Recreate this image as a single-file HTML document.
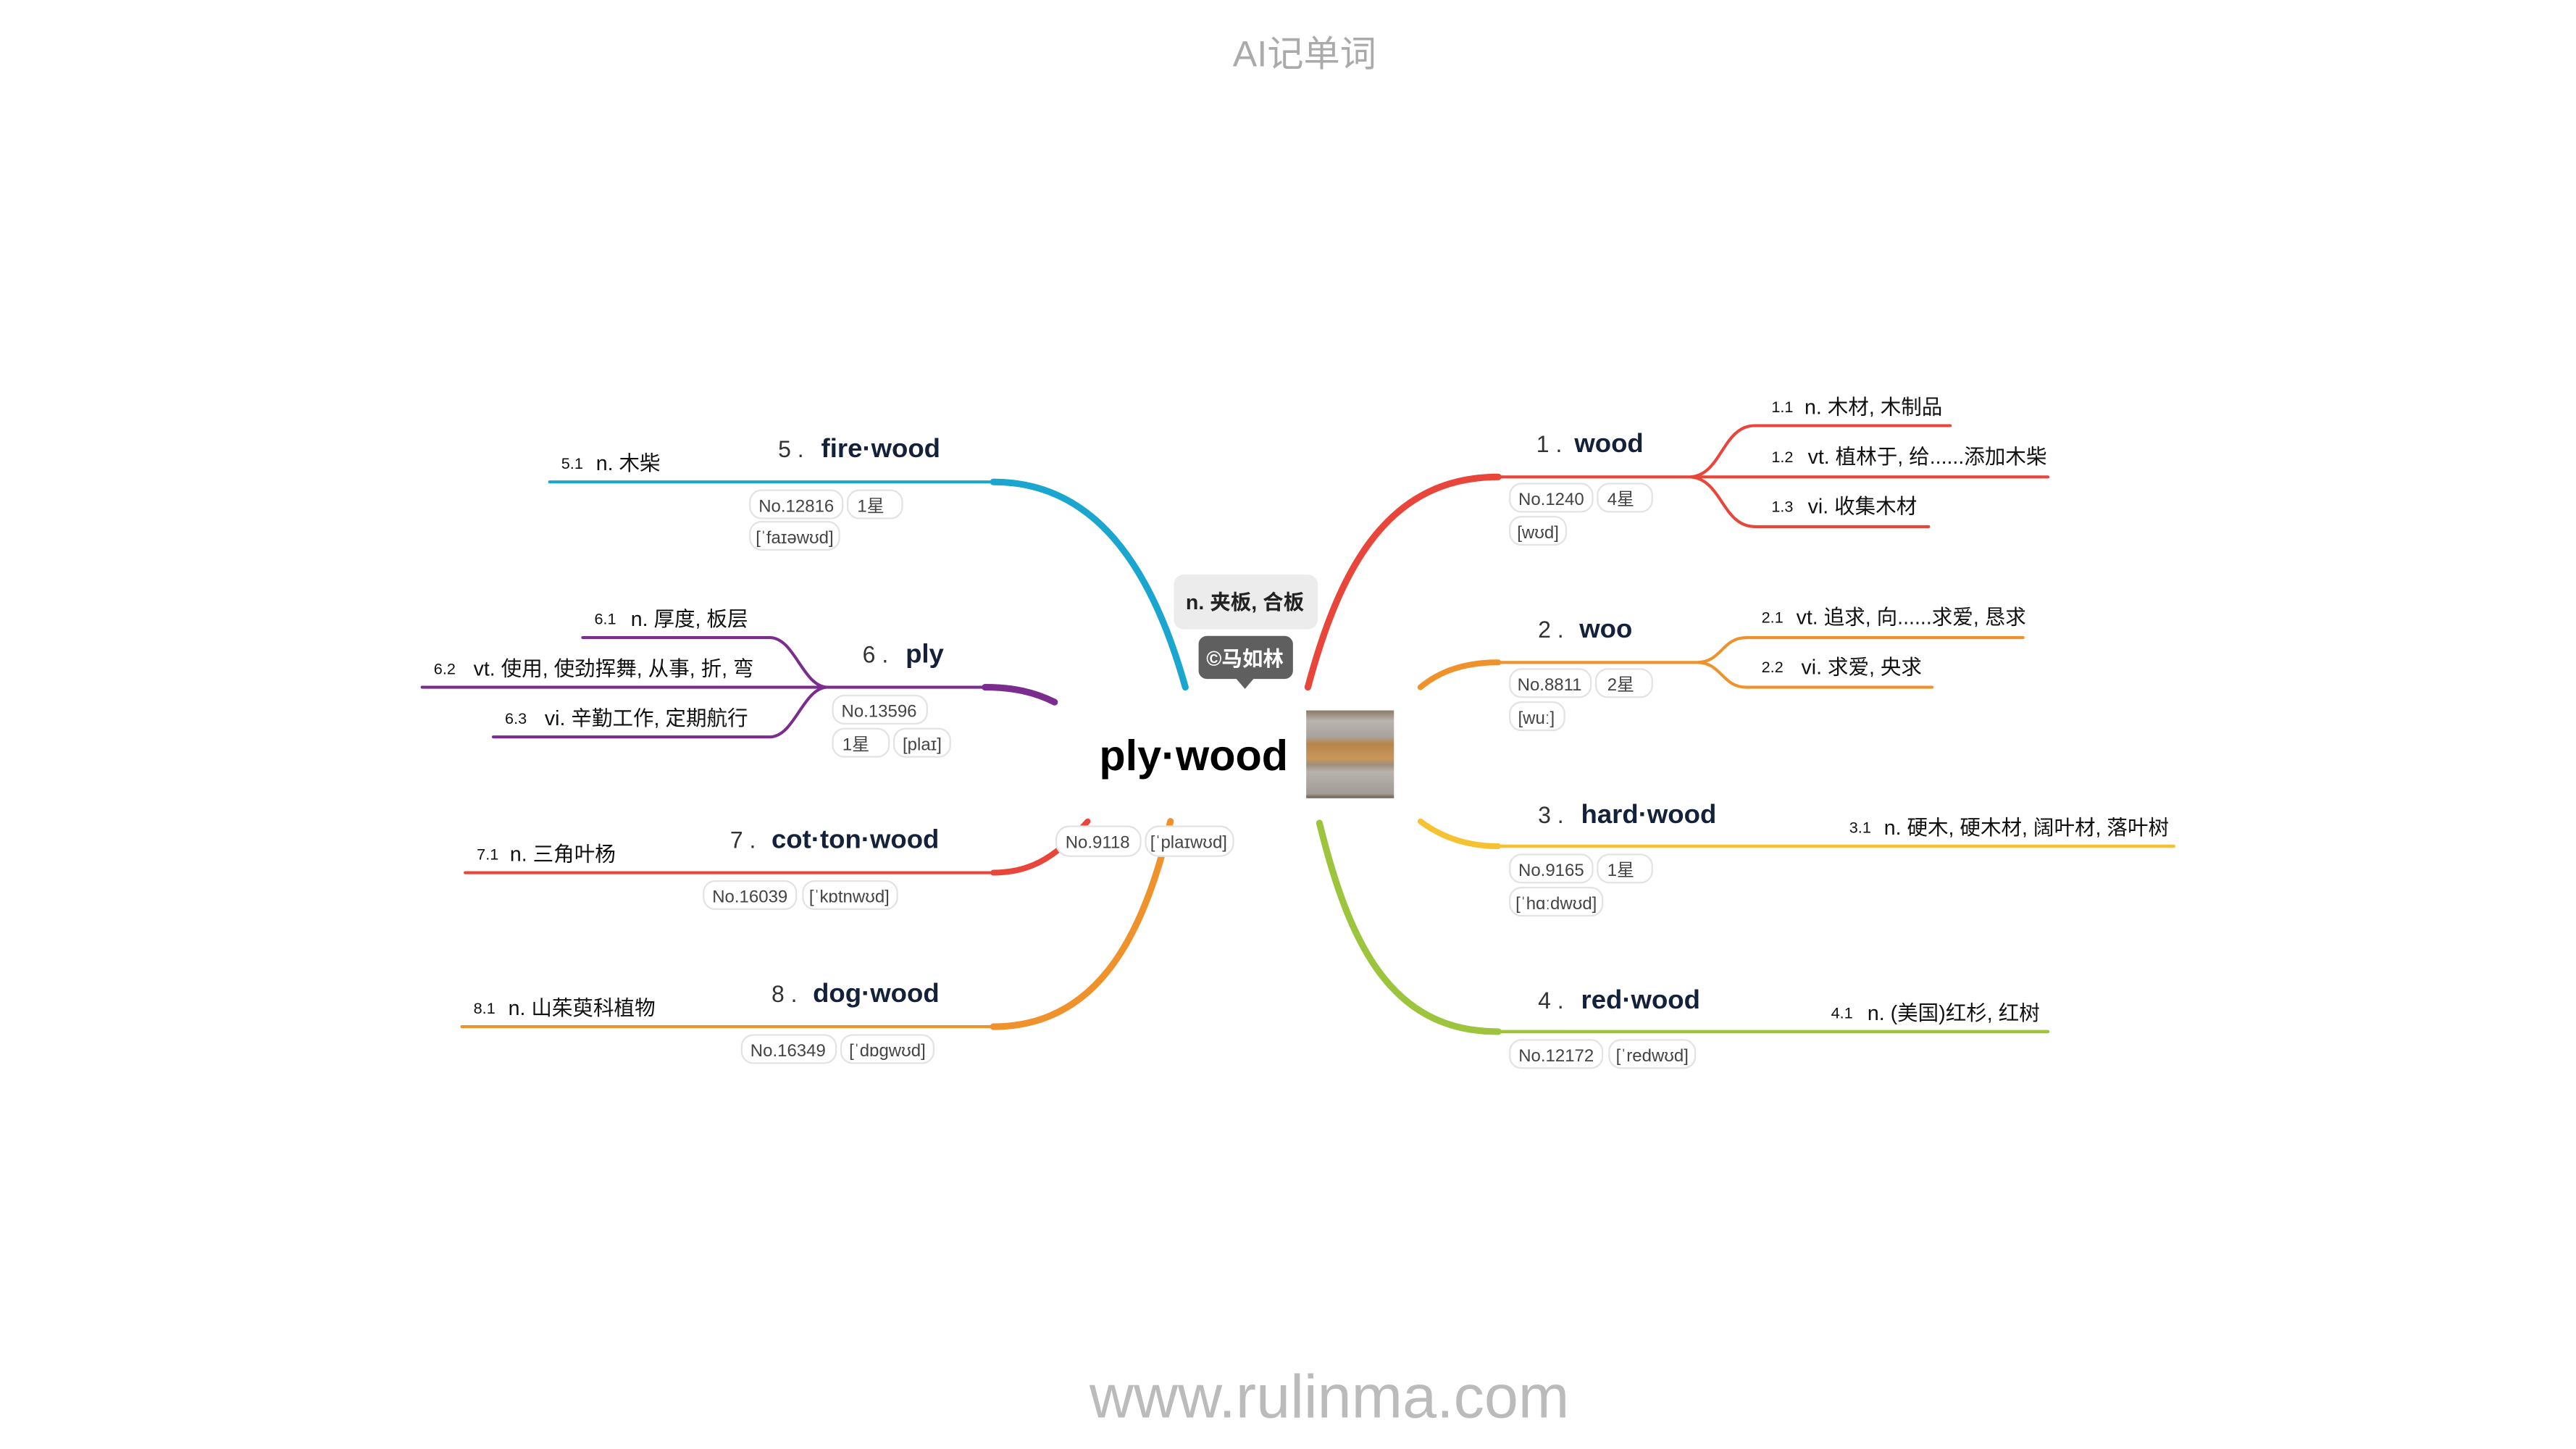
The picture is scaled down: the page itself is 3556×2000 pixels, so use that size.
<!DOCTYPE html>
<html><head><meta charset="utf-8"><style>
html,body{margin:0;padding:0;background:#fff;width:3556px;height:2000px;overflow:hidden}
svg{display:block}
text{font-family:"Liberation Sans","Noto Sans CJK SC",sans-serif}
.w{font-weight:bold;fill:#14213a;font-size:16px}
.n{fill:#333;font-size:14px}
.s{fill:#111;font-size:12.5px}
.i{fill:#111;font-size:9.5px}
.p{fill:#444;font-size:10.5px}
.pill{fill:#fff;stroke:#e3e3e3;stroke-width:1}
</style></head><body>
<svg width="3556" height="2000" viewBox="0 0 1556 875" xmlns="http://www.w3.org/2000/svg">
<defs>
<linearGradient id="wd" x1="0" y1="0" x2="0" y2="1">
<stop offset="0" stop-color="#8a7a66"/><stop offset="0.12" stop-color="#b9b4ad"/><stop offset="0.3" stop-color="#a8a39c"/>
<stop offset="0.38" stop-color="#b7854a"/><stop offset="0.55" stop-color="#c9965a"/><stop offset="0.62" stop-color="#9d8f7e"/>
<stop offset="0.7" stop-color="#b8b3ad"/><stop offset="0.95" stop-color="#a09b94"/><stop offset="1" stop-color="#6b5a48"/>
</linearGradient>
</defs>
<text x="788" y="40" text-anchor="middle" fill="#aaa" font-size="22">AI记单词</text>
<text x="803" y="856" text-anchor="middle" fill="#bbb" font-size="37">www.rulinma.com</text>

<!-- branch curves -->
<g fill="none" stroke-linecap="round">
<!-- 1 red -->
<path d="M790,415 C810,340 840,288 905,288" stroke="#e8463a" stroke-width="4"/>
<path d="M905,288 L1237,288 M1020,288 C1040,288 1040,257 1060,257 L1178,257 M1020,288 C1040,288 1040,318 1060,318 L1165,318" stroke="#e8463a" stroke-width="1.8"/>
<!-- 2 orange -->
<path d="M858,415 C870,405 885,400 905,400" stroke="#f0922b" stroke-width="3.5"/>
<path d="M905,400 L1025,400 C1040,400 1040,385 1055,385 L1222,385 M1025,400 C1040,400 1040,415 1055,415 L1167,415" stroke="#f0922b" stroke-width="1.8"/>
<!-- 3 yellow -->
<path d="M858,496 C870,505 885,511 905,511" stroke="#f5c232" stroke-width="3.5"/>
<path d="M905,511 L1313,511" stroke="#f5c232" stroke-width="2"/>
<!-- 4 green -->
<path d="M797,497 C815,570 840,623 905,623" stroke="#9cc43c" stroke-width="4"/>
<path d="M905,623 L1237,623" stroke="#9cc43c" stroke-width="2"/>
<!-- 5 teal -->
<path d="M716,415 C695,340 660,291 600,291" stroke="#1aa6cf" stroke-width="4"/>
<path d="M600,291 L332,291" stroke="#1aa6cf" stroke-width="1.8"/>
<!-- 6 purple -->
<path d="M637,424 C625,418 612,415 595,415" stroke="#7b2d8e" stroke-width="4"/>
<path d="M595,415 L255,415 M500,415 C485,415 480,385 465,385 L352,385 M500,415 C485,415 480,445 465,445 L298,445" stroke="#7b2d8e" stroke-width="1.8"/>
<!-- 7 red -->
<path d="M657,496 C640,515 625,527 600,527" stroke="#e8463a" stroke-width="3.5"/>
<path d="M600,527 L281,527" stroke="#e8463a" stroke-width="1.8"/>
<!-- 8 orange -->
<path d="M707,496 C690,570 660,620 600,620" stroke="#f0922b" stroke-width="4"/>
<path d="M600,620 L279,620" stroke="#f0922b" stroke-width="1.8"/>
</g>

<!-- center -->
<rect x="709" y="347" width="87" height="33" rx="6" fill="#ececec"/>
<text x="752" y="368" text-anchor="middle" font-size="12.5" font-weight="bold" fill="#222">n. 夹板, 合板</text>
<rect x="724" y="384" width="57" height="26" rx="5" fill="#5f5f5f"/>
<path d="M746,409 L752,416 L758,409 Z" fill="#5f5f5f"/>
<text x="752" y="402" text-anchor="middle" font-size="12.5" font-weight="bold" fill="#fff">©马如林</text>
<text x="721" y="465" text-anchor="middle" font-size="26" font-weight="bold" fill="#000">ply·wood</text>
<rect x="789" y="429" width="53" height="53" fill="url(#wd)"/>
<rect x="638" y="499" width="51" height="18" rx="8" class="pill"/><text x="663" y="512" text-anchor="middle" class="p">No.9118</text>
<rect x="692" y="499" width="53" height="18" rx="8" class="pill"/><text x="718" y="512" text-anchor="middle" class="p">[ˈplaɪwʊd]</text>

<!-- 1 -->
<text x="928" y="273" class="n">1 .</text><text x="951" y="273" class="w">wood</text>
<rect x="912" y="292" width="50" height="17" rx="7" class="pill"/><text x="937" y="305" text-anchor="middle" class="p">No.1240</text>
<rect x="965" y="292" width="33" height="17" rx="7" class="pill"/><text x="979" y="305" text-anchor="middle" class="p">4星</text>
<rect x="912" y="312" width="34" height="17" rx="7" class="pill"/><text x="929" y="325" text-anchor="middle" class="p">[wʊd]</text>
<text x="1070" y="249" class="i">1.1</text><text x="1090" y="250" class="s">n. 木材, 木制品</text>
<text x="1070" y="279" class="i">1.2</text><text x="1092" y="280" class="s">vt. 植林于, 给......添加木柴</text>
<text x="1070" y="309" class="i">1.3</text><text x="1092" y="310" class="s">vi. 收集木材</text>
<!-- 2 -->
<text x="929" y="385" class="n">2 .</text><text x="954" y="385" class="w">woo</text>
<rect x="912" y="404" width="49" height="17" rx="7" class="pill"/><text x="936" y="417" text-anchor="middle" class="p">No.8811</text>
<rect x="964" y="404" width="34" height="17" rx="7" class="pill"/><text x="979" y="417" text-anchor="middle" class="p">2星</text>
<rect x="912" y="424" width="33" height="17" rx="7" class="pill"/><text x="928" y="437" text-anchor="middle" class="p">[wuː]</text>
<text x="1064" y="376" class="i">2.1</text><text x="1085" y="377" class="s">vt. 追求, 向......求爱, 恳求</text>
<text x="1064" y="406" class="i">2.2</text><text x="1088" y="407" class="s">vi. 求爱, 央求</text>
<!-- 3 -->
<text x="929" y="497" class="n">3 .</text><text x="955" y="497" class="w">hard·wood</text>
<rect x="912" y="516" width="50" height="17" rx="7" class="pill"/><text x="937" y="529" text-anchor="middle" class="p">No.9165</text>
<rect x="965" y="516" width="33" height="17" rx="7" class="pill"/><text x="979" y="529" text-anchor="middle" class="p">1星</text>
<rect x="912" y="536" width="56" height="17" rx="7" class="pill"/><text x="940" y="549" text-anchor="middle" class="p">[ˈhɑːdwʊd]</text>
<text x="1117" y="503" class="i">3.1</text><text x="1138" y="504" class="s">n. 硬木, 硬木材, 阔叶材, 落叶树</text>
<!-- 4 -->
<text x="929" y="609" class="n">4 .</text><text x="955" y="609" class="w">red·wood</text>
<rect x="912" y="628" width="56" height="17" rx="7" class="pill"/><text x="940" y="641" text-anchor="middle" class="p">No.12172</text>
<rect x="972" y="628" width="52" height="17" rx="7" class="pill"/><text x="998" y="641" text-anchor="middle" class="p">[ˈredwʊd]</text>
<text x="1106" y="615" class="i">4.1</text><text x="1128" y="616" class="s">n. (美国)红杉, 红树</text>
<!-- 5 -->
<text x="470" y="276" class="n">5 .</text><text x="496" y="276" class="w">fire·wood</text>
<rect x="453" y="296" width="56" height="17" rx="7" class="pill"/><text x="481" y="309" text-anchor="middle" class="p">No.12816</text>
<rect x="512" y="296" width="33" height="17" rx="7" class="pill"/><text x="526" y="309" text-anchor="middle" class="p">1星</text>
<rect x="453" y="315" width="54" height="17" rx="7" class="pill"/><text x="480" y="328" text-anchor="middle" class="p">[ˈfaɪəwʊd]</text>
<text x="339" y="283" class="i">5.1</text><text x="360" y="284" class="s">n. 木柴</text>
<!-- 6 -->
<text x="521" y="400" class="n">6 .</text><text x="547" y="400" class="w">ply</text>
<rect x="503" y="420" width="57" height="17" rx="7" class="pill"/><text x="531" y="433" text-anchor="middle" class="p">No.13596</text>
<rect x="503" y="440" width="34" height="17" rx="7" class="pill"/><text x="517" y="453" text-anchor="middle" class="p">1星</text>
<rect x="540" y="440" width="34" height="17" rx="7" class="pill"/><text x="557" y="453" text-anchor="middle" class="p">[plaɪ]</text>
<text x="359" y="377" class="i">6.1</text><text x="381" y="378" class="s">n. 厚度, 板层</text>
<text x="262" y="407" class="i">6.2</text><text x="286" y="408" class="s">vt. 使用, 使劲挥舞, 从事, 折, 弯</text>
<text x="305" y="437" class="i">6.3</text><text x="329" y="438" class="s">vi. 辛勤工作, 定期航行</text>
<!-- 7 -->
<text x="441" y="512" class="n">7 .</text><text x="466" y="512" class="w">cot·ton·wood</text>
<rect x="425" y="532" width="56" height="17" rx="7" class="pill"/><text x="453" y="545" text-anchor="middle" class="p">No.16039</text>
<rect x="485" y="532" width="57" height="17" rx="7" class="pill"/><text x="513" y="545" text-anchor="middle" class="p">[ˈkɒtnwʊd]</text>
<text x="288" y="519" class="i">7.1</text><text x="308" y="520" class="s">n. 三角叶杨</text>
<!-- 8 -->
<text x="466" y="605" class="n">8 .</text><text x="491" y="605" class="w">dog·wood</text>
<rect x="448" y="625" width="57" height="17" rx="7" class="pill"/><text x="476" y="638" text-anchor="middle" class="p">No.16349</text>
<rect x="508" y="625" width="56" height="17" rx="7" class="pill"/><text x="536" y="638" text-anchor="middle" class="p">[ˈdɒgwʊd]</text>
<text x="286" y="612" class="i">8.1</text><text x="307" y="613" class="s">n. 山茱萸科植物</text>
</svg>
</body></html>
